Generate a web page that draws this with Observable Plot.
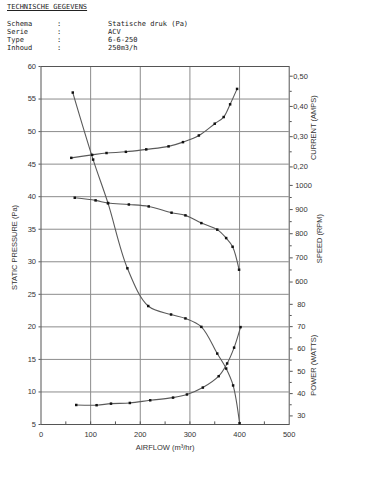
<!DOCTYPE html>
<html><head><meta charset="utf-8">
<script src="https://cdn.jsdelivr.net/npm/d3@7"></script>
<script src="https://cdn.jsdelivr.net/npm/@observablehq/plot@0.6"></script>
<style>
body{margin:0;background:#fff;width:369px;height:500px;overflow:hidden}
#hdr{position:relative;height:60px;font-family:"DejaVu Sans Mono",monospace;font-size:7px;color:#222}
#hdr div{position:absolute;white-space:pre;line-height:8px}
#chart svg{display:block}
</style></head><body>
<div id="hdr"></div><div id="chart"></div>
<script>
// Header
const headerTitle = "TECHNISCHE GEGEVENS";
const headerLabels = ["Schema", "Serie", "Type", "Inhoud"];
const headerValues = ["Statische druk (Pa)", "ACV", "6-6-250", "250m3/h"];

// Series (airflow m³/hr)
const airflowPressure = [64, 105, 135, 174, 216, 262, 291, 323, 355, 373, 387, 400];
const pressure = [56, 45.7, 39, 29, 23.2, 21.9, 21.3, 20, 15.9, 13.6, 11, 5.2];

const airflowCurrent = [61, 103, 132, 171, 212, 257, 286, 318, 350, 368, 381, 395];
const current = [0.230, 0.240, 0.246, 0.250, 0.258, 0.268, 0.282, 0.304, 0.343, 0.365, 0.407, 0.458];

const airflowSpeed = [68, 110, 135, 177, 217, 263, 291, 323, 355, 373, 386, 399];
const speed = [949, 938, 927, 921, 913, 887, 876, 844, 817, 782, 746, 651];

const airflowPower = [71, 112, 141, 179, 220, 266, 294, 326, 358, 375, 389, 402];
const power = [34.9, 34.8, 35.5, 35.8, 37.0, 38.2, 39.6, 42.7, 47.8, 53.5, 60.6, 69.8];

// Tick labels
const xTicks = [0, 100, 200, 300, 400, 500];
const pressureTicks = [5, 10, 15, 20, 25, 30, 35, 40, 45, 50, 55, 60];
const currentTicks = [0.20, 0.30, 0.40, 0.50];
const currentMinor = [0.25, 0.35, 0.45];
const speedTicks = [600, 700, 800, 900, 1000];
const speedMinor = [650, 750, 850, 950];
const powerTicks = [30, 40, 50, 60, 70, 80];
const powerMinor = [35, 45, 55, 65, 75];

// secondary axes placed on the pressure scale
const curToPa = d3.scaleLinear([0.2, 0.5], [44.57, 58.51]);
const rpmToPa = d3.scaleLinear([600, 1000], [26.89, 41.73]);
const wToPa = d3.scaleLinear([30, 80], [6.32, 23.46]);

// header
const hdr = document.getElementById("hdr");
const t = document.createElement("div");
t.textContent = headerTitle; t.style.left = "7px"; t.style.top = "3px"; t.style.textDecoration = "underline";
hdr.appendChild(t);
const rowTops = [20, 28, 36, 44];
headerLabels.forEach((l, i) => {
  const a = document.createElement("div"); a.textContent = l; a.style.left = "7px"; a.style.top = rowTops[i] + "px"; hdr.appendChild(a);
  const c = document.createElement("div"); c.textContent = ":"; c.style.left = "57px"; c.style.top = rowTops[i] + "px"; hdr.appendChild(c);
  const v = document.createElement("div"); v.textContent = headerValues[i]; v.style.left = "108px"; v.style.top = rowTops[i] + "px"; hdr.appendChild(v);
});

const mk = (xs, ys, f) => xs.map((x, i) => ({x, y: f(ys[i])}));
const pData = mk(airflowPressure, pressure, d => d);
const cData = mk(airflowCurrent, current, curToPa);
const sData = mk(airflowSpeed, speed, rpmToPa);
const wData = mk(airflowPower, power, wToPa);

const lineStyle = {x: "x", y: "y", curve: "catmull-rom", stroke: "#5a5a5a", strokeWidth: 1.1};
const dotStyle = {x: "x", y: "y", symbol: "square", r: 1.4, fill: "#111", stroke: "none"};
const comma = d => d3.format(".2f")(d).replace(".", ",");
const txt = {fontSize: 7.5, fill: "#333", fontFamily: "Liberation Sans, Arial, sans-serif"};

const chart = Plot.plot({
  width: 369, height: 440,
  marginTop: 6, marginBottom: 76, marginLeft: 40.5, marginRight: 80.3,
  style: {fontFamily: "Liberation Sans, Arial, sans-serif", fontSize: "7.5px", color: "#333", background: "#fff"},
  x: {domain: [0, 500]},
  y: {domain: [5, 60]},
  marks: [
    Plot.gridY(pressureTicks, {stroke: "#8c8c8c", strokeOpacity: 1, strokeWidth: 1}),
    Plot.gridX([100, 200, 300, 400], {stroke: "#8c8c8c", strokeOpacity: 1, strokeWidth: 1}),
    Plot.frame({stroke: "#555", strokeWidth: 1}),
    Plot.ruleX(d3.range(50, 500, 50), {y1: 5, y2: 5.4, stroke: "#555"}),
    Plot.axisY(pressureTicks, {tickSize: 2, tickPadding: 3, label: null, fontSize: 7.5, stroke: "#555"}),
    Plot.axisX(xTicks, {tickSize: 0, tickPadding: 7, label: null, fontSize: 7.5}),
    Plot.axisY(currentTicks.map(curToPa), {anchor: "right", tickSize: 3, tickPadding: 1, label: null, tickFormat: d => comma(curToPa.invert(d)), fontSize: 7.5, stroke: "#555"}),
    Plot.axisY(currentMinor.map(curToPa), {anchor: "right", tickSize: 2, label: null, text: null, stroke: "#555"}),
    Plot.axisY(speedTicks.map(rpmToPa), {anchor: "right", tickSize: 3, tickPadding: 3, label: null, tickFormat: d => String(Math.round(rpmToPa.invert(d))), fontSize: 7.5, stroke: "#555"}),
    Plot.axisY(speedMinor.map(rpmToPa), {anchor: "right", tickSize: 2, label: null, text: null, stroke: "#555"}),
    Plot.axisY(powerTicks.map(wToPa), {anchor: "right", tickSize: 3, tickPadding: 5, label: null, tickFormat: d => String(Math.round(wToPa.invert(d))), fontSize: 7.5, stroke: "#555"}),
    Plot.axisY(powerMinor.map(wToPa), {anchor: "right", tickSize: 2, label: null, text: null, stroke: "#555"}),
    Plot.line(pData, lineStyle), Plot.dot(pData, dotStyle),
    Plot.line(cData, lineStyle), Plot.dot(cData, dotStyle),
    Plot.line(sData, lineStyle), Plot.dot(sData, dotStyle),
    Plot.line(wData, lineStyle), Plot.dot(wData, dotStyle),
    Plot.text(["STATIC PRESSURE (Pa)"], {x: 0, y: 32.2, dx: -26.5, rotate: -90, text: d => d, ...txt}),
    Plot.text(["AIRFLOW (m³/hr)"], {x: 250, y: 5, dy: 23, text: d => d, ...txt}),
    Plot.text(["CURRENT (AMPS)"], {x: 500, y: curToPa(0.33), dx: 24.5, rotate: -90, text: d => d, ...txt}),
    Plot.text(["SPEED (RPM)"], {x: 500, y: rpmToPa(780), dx: 30, rotate: -90, text: d => d, ...txt}),
    Plot.text(["POWER (WATTS)"], {x: 500, y: wToPa(52.7), dx: 24.5, rotate: -90, text: d => d, ...txt})
  ]
});
document.getElementById("chart").appendChild(chart);
</script>
</body></html>
